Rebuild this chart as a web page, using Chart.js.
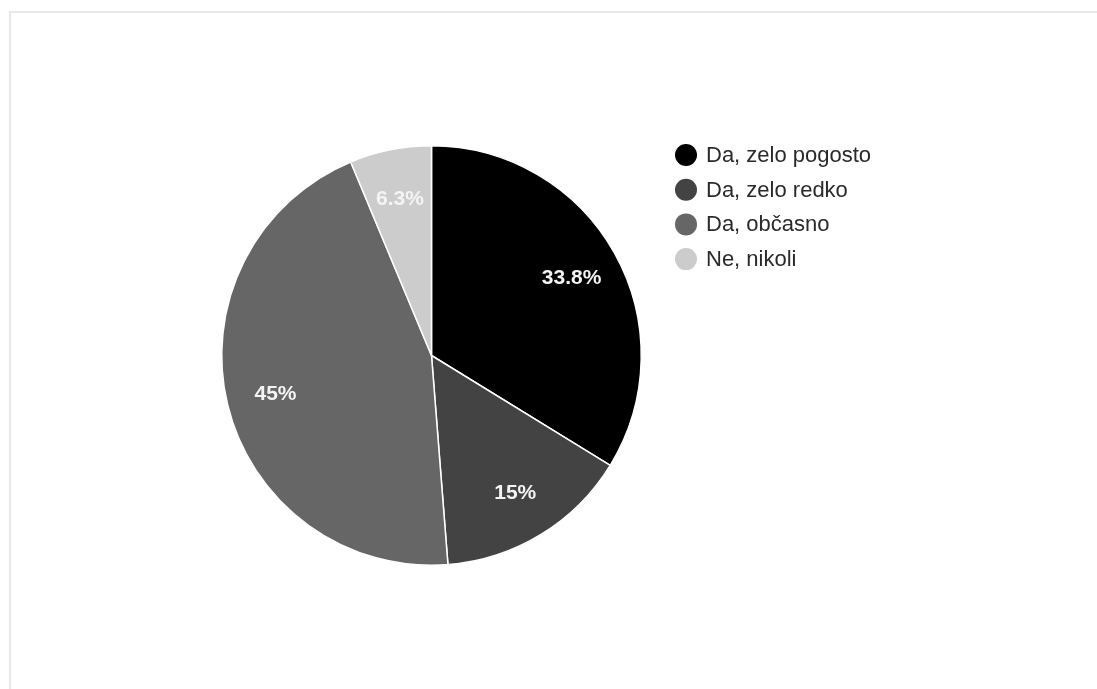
<!DOCTYPE html>
<html>
<head>
<meta charset="utf-8">
<script src="https://cdn.jsdelivr.net/npm/chart.js@4.4.0/dist/chart.umd.min.js"></script>
<style>
  html, body { margin: 0; padding: 0; background: #fff; }
  #frame {
    position: absolute; left: 9px; top: 11px; right: 0; bottom: 0;
    border-top: 2px solid #e8e8e8; border-left: 2px solid #e8e8e8;
  }
  #wrap { position: absolute; left: 0; top: 0; width: 1097px; height: 689px; }
</style>
</head>
<body>
<div id="frame"></div>
<div id="wrap"><canvas id="pie" width="1097" height="689"></canvas></div>
<script>
// answers and their shares (%)
const labels = ["Da, zelo pogosto", "Da, zelo redko", "Da, občasno", "Ne, nikoli"];
const shares = [33.8, 15, 45, 6.3];
const sliceLabels = ["33.8%", "15%", "45%", "6.3%"];
const colors = ["#000000", "#434343", "#666666", "#cccccc"];

const FONT = "Arial, 'Liberation Sans', sans-serif";

// percent text inside each slice
const sliceText = {
  id: "sliceText",
  afterDatasetsDraw(chart) {
    const ctx = chart.ctx;
    const arcs = chart.getDatasetMeta(0).data;
    ctx.save();
    ctx.font = "bold 21px " + FONT;
    ctx.fillStyle = "#f4f4f4";
    ctx.textAlign = "center";
    ctx.textBaseline = "middle";
    arcs.forEach(function (arc, i) {
      const p = arc.getProps(["x", "y", "startAngle", "endAngle", "outerRadius"], true);
      const mid = (p.startAngle + p.endAngle) / 2;
      const d = p.outerRadius * 0.765;
      ctx.fillText(sliceLabels[i], p.x + Math.cos(mid) * d, p.y + Math.sin(mid) * d + 1);
    });
    ctx.restore();
  }
};

// legend column to the right of the pie
const sideLegend = {
  id: "sideLegend",
  afterDraw(chart) {
    const ctx = chart.ctx;
    const x0 = 686, y0 = 155, step = 34.7;
    ctx.save();
    ctx.font = "22px " + FONT;
    ctx.textBaseline = "middle";
    labels.forEach(function (name, i) {
      const y = y0 + i * step;
      ctx.beginPath();
      ctx.arc(x0, y, 11, 0, Math.PI * 2);
      ctx.fillStyle = colors[i];
      ctx.fill();
      ctx.fillStyle = "#2a2a2a";
      ctx.fillText(name, 706, y + 1);
    });
    ctx.restore();
  }
};

new Chart(document.getElementById("pie"), {
  type: "pie",
  data: {
    labels: labels,
    datasets: [{
      data: shares,
      backgroundColor: colors,
      borderColor: "#ffffff",
      borderWidth: 1.5
    }]
  },
  options: {
    responsive: false,
    animation: false,
    layout: { padding: { left: 221, top: 145, right: 455, bottom: 123 } },
    plugins: {
      legend: { display: false },
      tooltip: { enabled: false }
    }
  },
  plugins: [sliceText, sideLegend]
});
</script>
</body>
</html>
